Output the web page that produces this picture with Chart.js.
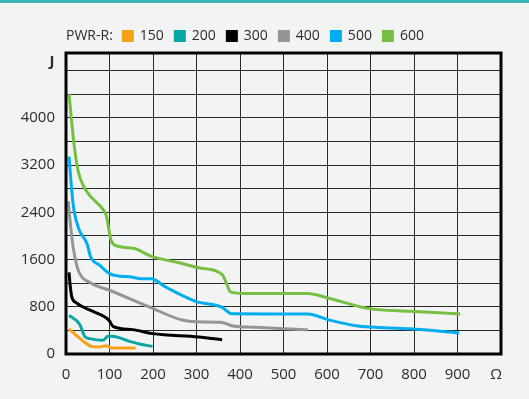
<!DOCTYPE html>
<html>
<head>
<meta charset="utf-8">
<script src="https://cdn.jsdelivr.net/npm/chart.js@4.4.1/dist/chart.umd.min.js"></script>
<style>
    html, body { margin: 0; padding: 0; background: #f2f4f3; }
    #wrap { width: 529px; height: 399px; position: relative; }
</style>
</head>
<body>
<div id="wrap"><canvas id="chart" width="529" height="399"></canvas></div>
<script>
// Series: resistance (Ohm) vs energy (J) for each PWR-R model
const seriesNames = ['150', '200', '300', '400', '500', '600'];
const seriesColors = ['#f7a11a', '#0aa6a6', '#000000', '#939598', '#00aeef', '#76bf43'];

const r150x = [7, 20, 40, 58, 75, 93, 104, 130, 160];
const r150y = [424, 340, 214, 129, 117, 141, 102, 100, 102];

const r200x = [7, 32, 43, 55, 85, 96, 106, 146, 169, 199];
const r200y = [655, 497, 299, 260, 231, 299, 302, 214, 170, 129];

const r300x = [7, 9, 13, 24, 62, 93, 100, 108, 153, 199, 305, 359];
const r300y = [1385, 1205, 978, 866, 723, 611, 560, 469, 413, 345, 289, 243];

const r400x = [5, 13, 20, 30, 55, 100, 191, 267, 300, 355, 381, 435, 556];
const r400y = [2591, 1997, 1657, 1385, 1210, 1080, 798, 575, 545, 540, 480, 452, 410];

const r500x = [7, 13, 18, 30, 49, 56, 78, 100, 153, 176, 195, 230, 298, 359, 381, 556, 602, 666, 792, 904];
const r500y = [3345, 2790, 2450, 2110, 1856, 1657, 1500, 1363, 1300, 1273, 1273, 1131, 893, 791, 680, 679, 582, 480, 427, 356];

const r600x = [7, 18, 28, 47, 85, 93, 103, 112, 157, 195, 260, 305, 359, 370, 378, 412, 556, 602, 697, 791, 906];
const r600y = [4402, 3582, 3100, 2760, 2450, 2336, 1940, 1844, 1788, 1657, 1545, 1460, 1346, 1177, 1052, 1024, 1024, 950, 769, 723, 679];

const seriesX = [r150x, r200x, r300x, r400x, r500x, r600x];
const seriesY = [r150y, r200y, r300y, r400y, r500y, r600y];

// Axis ticks: grid every 400 J, labels every 800 J; x every 100 Ohm
const yTicks = [0, 400, 800, 1200, 1600, 2000, 2400, 2800, 3200, 3600, 4000, 4400, 4800];
const yLabels = [0, 800, 1600, 2400, 3200, 4000];
const xTicks = [0, 100, 200, 300, 400, 500, 600, 700, 800, 900];

const FONT = '"Open Sans", "Noto Sans", sans-serif';
const TEXT = '#2b2b2b';

const datasets = seriesNames.map((name, i) => ({
    label: name,
    data: seriesX[i].map((x, k) => ({ x: x, y: seriesY[i][k] })),
    borderColor: seriesColors[i],
    backgroundColor: seriesColors[i],
    borderWidth: 3,
    pointRadius: 0,
    cubicInterpolationMode: 'monotone',
    fill: false
}));

// Background, top stripe, frame, legend and axis unit labels
const decor = {
    id: 'decor',
    beforeDraw(chart) {
        const ctx = chart.ctx;
        ctx.save();
        ctx.fillStyle = '#f2f4f3';
        ctx.fillRect(0, 0, chart.width, chart.height);
        ctx.fillStyle = '#35b6b4';
        ctx.fillRect(0, 0, chart.width, 3);
        ctx.fillStyle = '#ffffff';
        ctx.fillRect(0, 3, chart.width, 1);
        ctx.restore();
    },
    afterDraw(chart) {
        const ctx = chart.ctx;
        const a = chart.chartArea;
        ctx.save();
        ctx.strokeStyle = '#000';
        ctx.lineWidth = 3;
        ctx.strokeRect(a.left, a.top, a.right - a.left, a.bottom - a.top);

        // unit labels
        ctx.fillStyle = TEXT;
        ctx.textBaseline = 'middle';
        ctx.textAlign = 'center';
        ctx.font = 'bold 15px ' + FONT;
        ctx.fillText('J', 52, 62);
        ctx.font = '15px ' + FONT;
        ctx.fillText('Ω', 496, 375);

        // legend
        ctx.textAlign = 'left';
        ctx.font = '14px ' + FONT;
        let x = 66;
        const y = 36;
        ctx.fillText('PWR-R:', x, y);
        x += ctx.measureText('PWR-R:').width + 9;
        seriesNames.forEach((name, i) => {
            ctx.fillStyle = seriesColors[i];
            ctx.fillRect(x, y - 6, 12, 12);
            x += 18;
            ctx.fillStyle = TEXT;
            ctx.fillText(name, x, y);
            x += ctx.measureText(name).width + 10;
        });
        ctx.restore();
    }
};

new Chart(document.getElementById('chart'), {
    type: 'line',
    data: { datasets: datasets },
    options: {
        responsive: false,
        animation: false,
        layout: { padding: { top: 53, right: 28, bottom: 0, left: 0 } },
        plugins: {
            legend: { display: false },
            tooltip: { enabled: false }
        },
        scales: {
            x: {
                type: 'linear',
                min: 0,
                max: 1000,
                afterFit: (s) => { s.height = 45; },
                afterBuildTicks: (s) => { s.ticks = xTicks.map(v => ({ value: v })); },
                grid: { color: '#2a2a2a', lineWidth: 1, drawTicks: false },
                border: { display: false },
                ticks: {
                    autoSkip: false,
                    maxRotation: 0,
                    padding: 12,
                    color: TEXT,
                    font: { size: 15, family: FONT },
                    callback: (v) => String(v)
                }
            },
            y: {
                min: 0,
                max: 5100,
                afterFit: (s) => { s.width = 66; },
                afterBuildTicks: (s) => { s.ticks = yTicks.map(v => ({ value: v })); },
                grid: { color: '#2a2a2a', lineWidth: 1, drawTicks: false },
                border: { display: false },
                ticks: {
                    autoSkip: false,
                    padding: 11,
                    color: TEXT,
                    font: { size: 15, family: FONT },
                    callback: (v) => (yLabels.includes(Math.round(v)) ? String(Math.round(v)) : '')
                }
            }
        }
    },
    plugins: [decor]
});
</script>
</body>
</html>
